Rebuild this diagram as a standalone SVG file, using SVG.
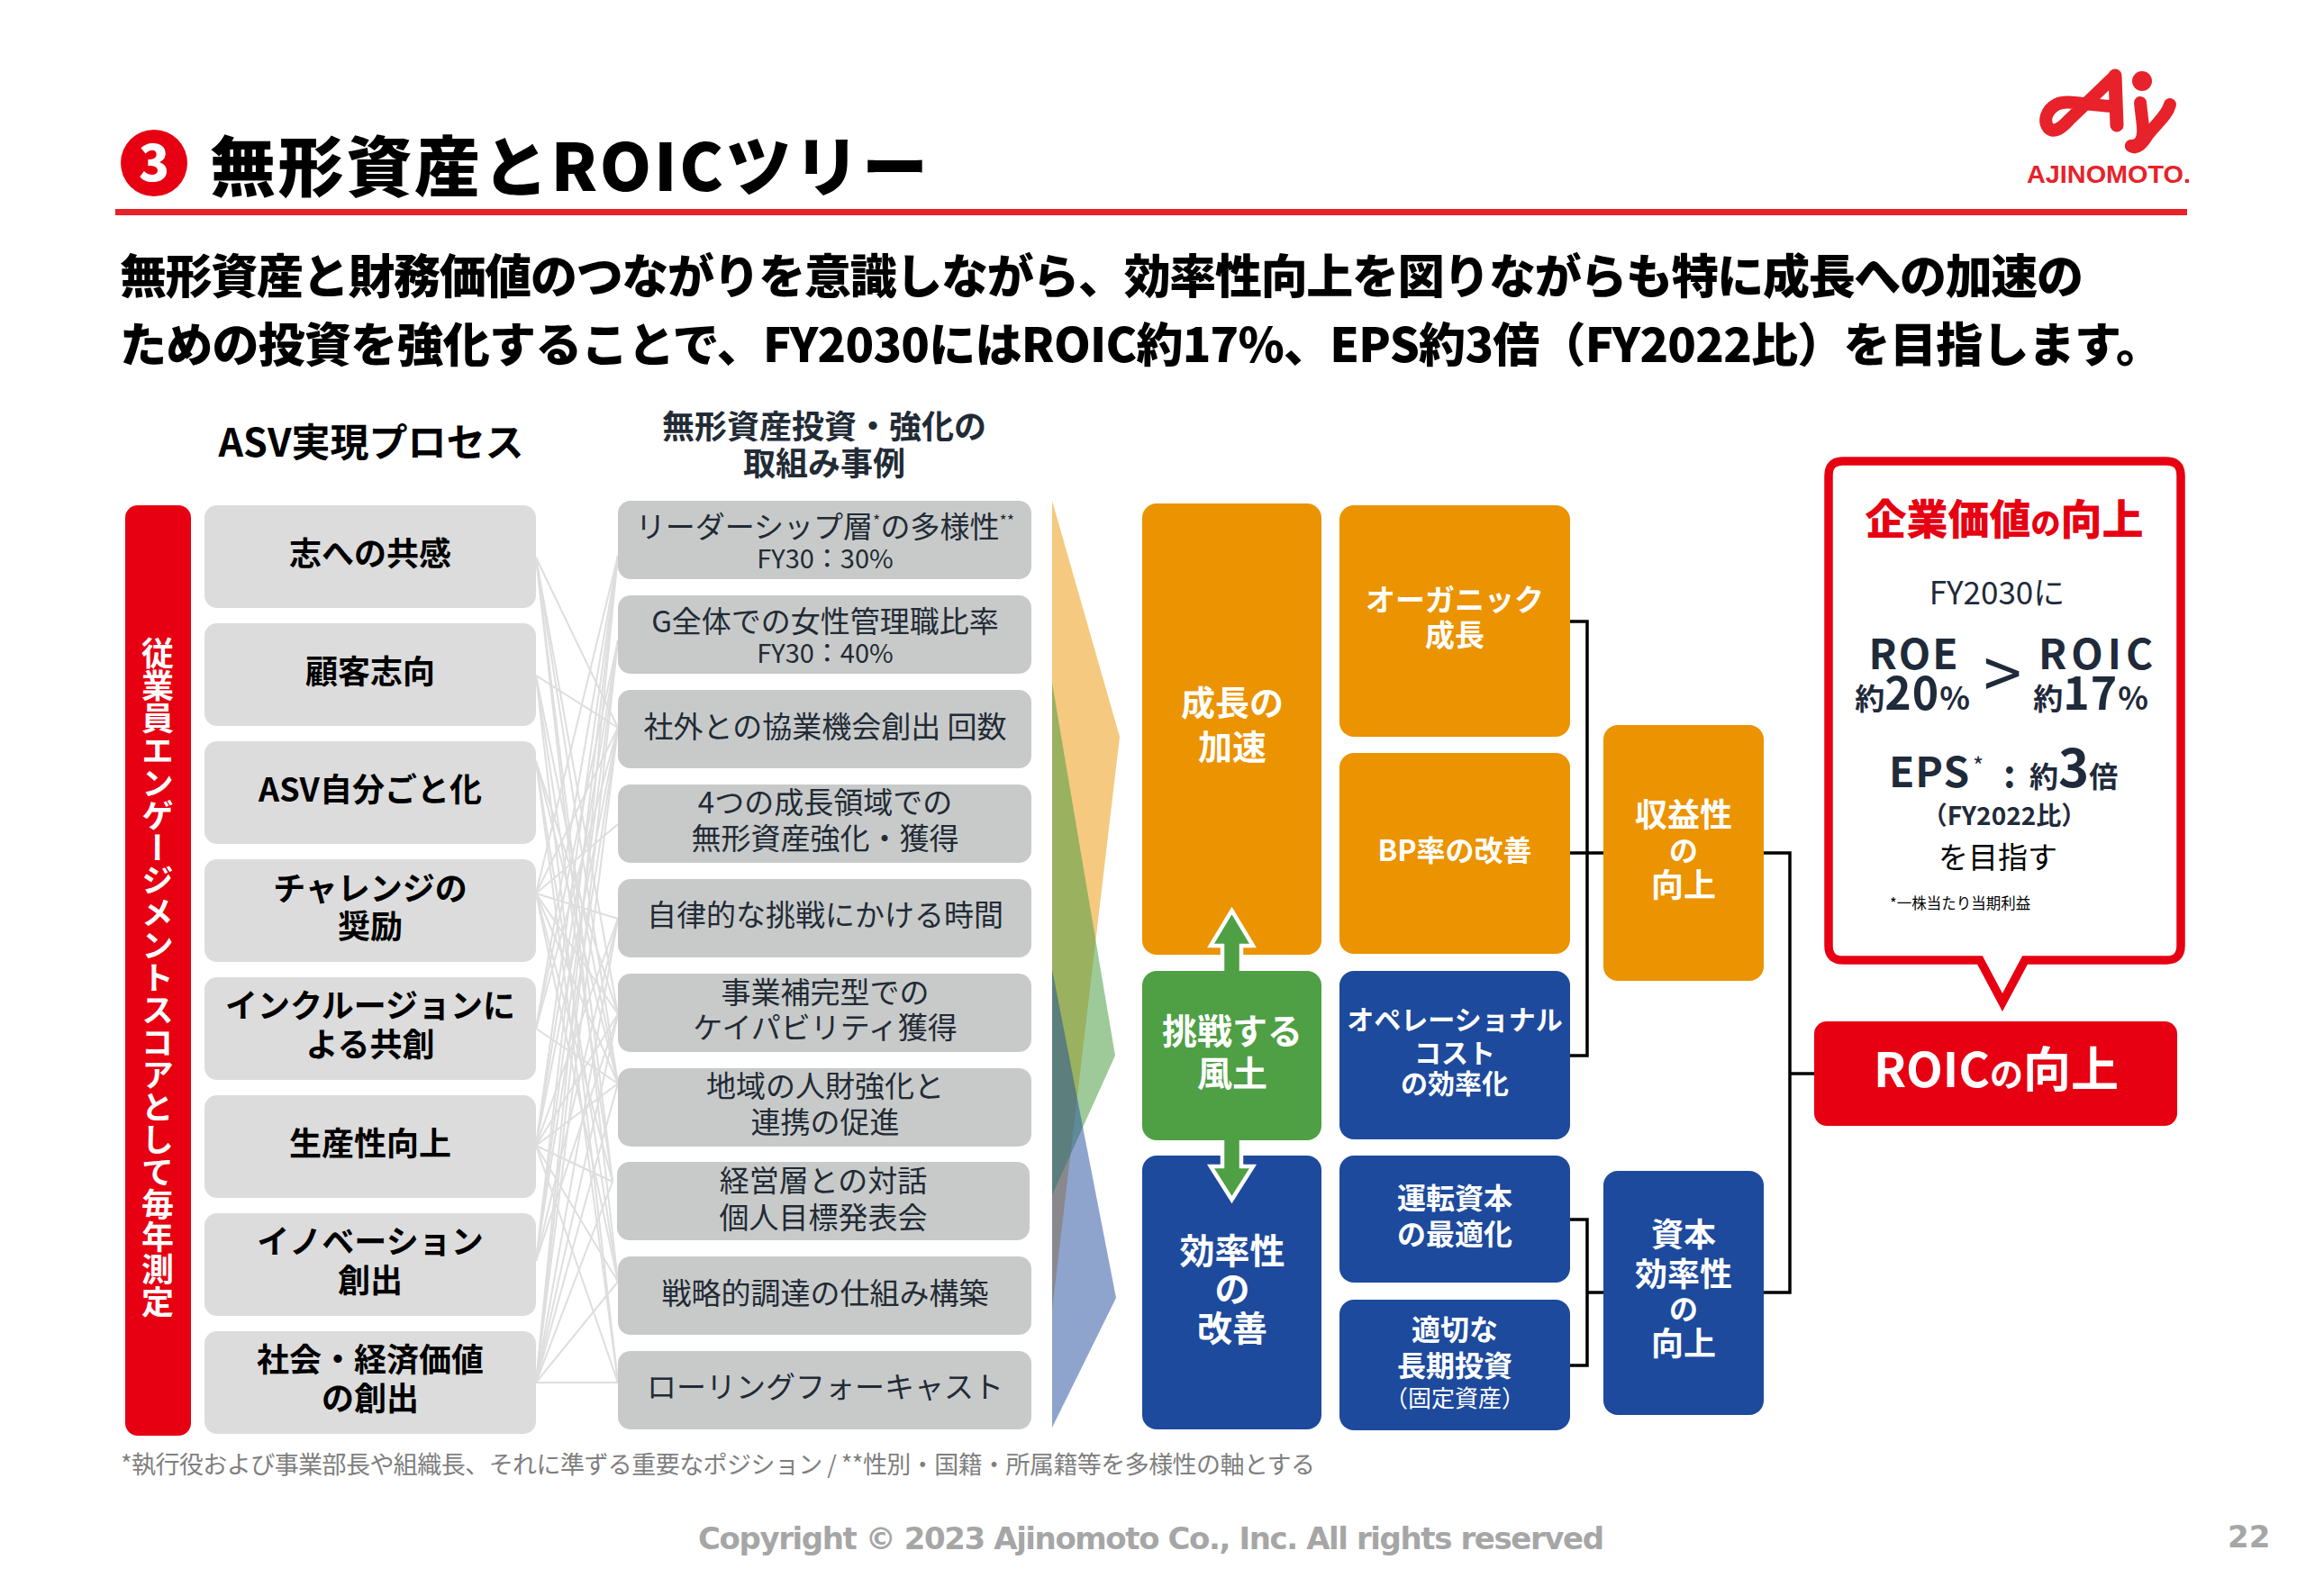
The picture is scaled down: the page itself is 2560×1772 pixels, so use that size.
<svg xmlns="http://www.w3.org/2000/svg" width="2560" height="1772" viewBox="0 0 2560 1772">
<style>
text{font-family:"Noto Sans CJK JP","Noto Sans",sans-serif}
.c{text-anchor:middle}
.b{font-weight:700}
.l{font-size:36px;font-weight:700;fill:#000;text-anchor:middle}
.r{font-size:33px;fill:#222b35;text-anchor:middle}
.w{fill:#fff;font-weight:700;text-anchor:middle}
.d{fill:#1f2a3a;font-weight:700}
.lb{fill:#dcdcdc}
.rb{fill:#c8caca}
.or{fill:#eb9300}
.bl{fill:#1d4a9c}
.cn line,.cn polyline{stroke:#dedede;stroke-width:2;fill:none}
.k{stroke:#000;stroke-width:3.5;fill:none}
</style>
<rect width="2560" height="1772" fill="#fff"/>
<g id="header">
<circle cx="171" cy="181" r="37" fill="#e60012"/>
<text x="171" y="201" class="c" font-weight="900" font-size="56" fill="#fff">3</text>
<text x="233" y="212" font-weight="900" font-size="73" fill="#000" textLength="797">無形資産とROICツリー</text>
<rect x="128" y="232" width="2300" height="7" fill="#e72229"/>
<g id="logo" fill="none" stroke="#e7222a" stroke-width="14" stroke-linecap="round" stroke-linejoin="round">
<path d="M2346,86 L2297,133 C2288,143 2280,148 2274,142 C2268,134 2272,122 2283,116 C2295,110 2310,116 2344,118"/>
<path d="M2348,84 L2350,139" stroke-width="15"/>
<path d="M2409,116 C2406,128 2395,136 2384,150 C2378,160 2372,166 2366,162"/>
<path d="M2376,114 L2379,140 C2380,155 2376,162 2366,162"/>
<circle cx="2378" cy="90" r="11" fill="#e7222a" stroke="none"/>
<text x="2250" y="203" font-size="27" font-weight="700" fill="#e7222a" stroke="none" textLength="182" lengthAdjust="spacingAndGlyphs" style="font-family:'Liberation Sans',sans-serif">AJINOMOTO.</text>
</g>
</g>
<g id="lead" font-weight="900" font-size="52" fill="#000">
<text x="133" y="326" textLength="2180">無形資産と財務価値のつながりを意識しながら、効率性向上を図りながらも特に成長への加速の</text>
<text x="133" y="402" textLength="2268">ための投資を強化することで、FY2030にはROIC約17%、EPS約3倍（FY2022比）を目指します。</text>
</g>
<g id="column-heads">
<text x="412" y="507" class="c b" font-size="43" fill="#000">ASV実現プロセス</text>
<text class="c b" font-size="36" fill="#222b35"><tspan x="915" y="487">無形資産投資・強化の</tspan><tspan x="915" y="528">取組み事例</tspan></text>
</g>
<g id="connectors-lines" class="cn">
<line x1="595" y1="619" x2="686" y2="808"/><line x1="595" y1="619" x2="686" y2="1126"/><line x1="595" y1="619" x2="686" y2="1203"/><line x1="595" y1="619" x2="680" y2="1312"/><line x1="595" y1="619" x2="686" y2="1423"/>
<line x1="595" y1="750" x2="686" y2="808"/><line x1="595" y1="750" x2="686" y2="1203"/><line x1="595" y1="750" x2="680" y2="1312"/><line x1="595" y1="750" x2="686" y2="1535"/>
<line x1="595" y1="845" x2="686" y2="1126"/><line x1="595" y1="845" x2="686" y2="1203"/><line x1="595" y1="845" x2="686" y2="1423"/><line x1="595" y1="845" x2="686" y2="1535"/>
<line x1="595" y1="992" x2="686" y2="617"/><line x1="595" y1="992" x2="686" y2="808"/><line x1="595" y1="992" x2="686" y2="915"/><line x1="595" y1="992" x2="686" y2="1020"/><line x1="595" y1="992" x2="686" y2="1126"/><line x1="595" y1="992" x2="686" y2="1203"/><line x1="595" y1="992" x2="680" y2="1312"/><line x1="595" y1="992" x2="686" y2="1423"/>
<line x1="595" y1="1142" x2="686" y2="617"/><line x1="595" y1="1142" x2="686" y2="711"/><line x1="595" y1="1142" x2="686" y2="808"/><line x1="595" y1="1142" x2="686" y2="1203"/>
<line x1="595" y1="1272" x2="686" y2="617"/><line x1="595" y1="1272" x2="686" y2="711"/><line x1="595" y1="1272" x2="686" y2="808"/><line x1="595" y1="1272" x2="686" y2="1020"/><line x1="595" y1="1272" x2="686" y2="1126"/><line x1="595" y1="1272" x2="686" y2="1203"/><line x1="595" y1="1272" x2="680" y2="1312"/><line x1="595" y1="1272" x2="686" y2="1423"/><line x1="595" y1="1272" x2="686" y2="1535"/>
<line x1="595" y1="1400" x2="686" y2="617"/><line x1="595" y1="1400" x2="686" y2="711"/><line x1="595" y1="1400" x2="686" y2="808"/><line x1="595" y1="1400" x2="686" y2="1020"/><line x1="595" y1="1400" x2="686" y2="1126"/>
<line x1="595" y1="1535" x2="686" y2="617"/><line x1="595" y1="1535" x2="686" y2="711"/><line x1="595" y1="1535" x2="686" y2="808"/><line x1="595" y1="1535" x2="686" y2="1020"/><line x1="595" y1="1535" x2="686" y2="1126"/><line x1="595" y1="1535" x2="686" y2="1203"/><line x1="595" y1="1535" x2="680" y2="1312"/><line x1="595" y1="1535" x2="686" y2="1423"/><line x1="595" y1="1535" x2="686" y2="1535"/>
</g>
<g id="engagement">
<rect x="139" y="561" width="73" height="1033" rx="14" fill="#e60012"/>
<text x="175" y="1085" class="w" font-size="36" style="writing-mode:vertical-rl">従業員エンゲージメントスコアとして毎年測定</text>
</g>
<g id="asv-1"><rect class="lb" x="227" y="561" width="368" height="114" rx="14"/><text class="l" x="411" y="628">志への共感</text></g>
<g id="asv-2"><rect class="lb" x="227" y="692" width="368" height="114" rx="14"/><text class="l" x="411" y="759">顧客志向</text></g>
<g id="asv-3"><rect class="lb" x="227" y="823" width="368" height="114" rx="14"/><text class="l" x="411" y="890">ASV自分ごと化</text></g>
<g id="asv-4"><rect class="lb" x="227" y="954" width="368" height="114" rx="14"/><text class="l"><tspan x="411" y="1000">チャレンジの</tspan><tspan x="411" y="1042">奨励</tspan></text></g>
<g id="asv-5"><rect class="lb" x="227" y="1085" width="368" height="114" rx="14"/><text class="l"><tspan x="411" y="1130">インクルージョンに</tspan><tspan x="411" y="1173">よる共創</tspan></text></g>
<g id="asv-6"><rect class="lb" x="227" y="1216" width="368" height="114" rx="14"/><text class="l" x="411" y="1283">生産性向上</text></g>
<g id="asv-7"><rect class="lb" x="227" y="1347" width="368" height="114" rx="14"/><text class="l"><tspan x="411" y="1392">イノベーション</tspan><tspan x="411" y="1435">創出</tspan></text></g>
<g id="asv-8"><rect class="lb" x="227" y="1478" width="368" height="114" rx="14"/><text class="l"><tspan x="411" y="1523">社会・経済価値</tspan><tspan x="411" y="1566">の創出</tspan></text></g>
<g id="inv-1"><rect class="rb" x="686" y="556" width="459" height="87" rx="14"/><text class="r"><tspan x="916" y="597">リーダーシップ層</tspan><tspan font-size="18" dy="-12">*</tspan><tspan dy="12">の多様性</tspan><tspan font-size="18" dy="-12">**</tspan><tspan x="916" y="631" font-size="29">FY30：30%</tspan></text></g>
<g id="inv-2"><rect class="rb" x="686" y="661" width="459" height="87" rx="14"/><text class="r"><tspan x="916" y="702">G全体での女性管理職比率</tspan><tspan x="916" y="736" font-size="29">FY30：40%</tspan></text></g>
<g id="inv-3"><rect class="rb" x="686" y="766" width="459" height="87" rx="14"/><text class="r" x="916" y="819">社外との協業機会創出 回数</text></g>
<g id="inv-4"><rect class="rb" x="686" y="871" width="459" height="87" rx="14"/><text class="r"><tspan x="916" y="903">4つの成長領域での</tspan><tspan x="916" y="943">無形資産強化・獲得</tspan></text></g>
<g id="inv-5"><rect class="rb" x="686" y="976" width="459" height="87" rx="14"/><text class="r" x="916" y="1028">自律的な挑戦にかける時間</text></g>
<g id="inv-6"><rect class="rb" x="686" y="1081" width="459" height="87" rx="14"/><text class="r"><tspan x="916" y="1114">事業補完型での</tspan><tspan x="916" y="1153">ケイパビリティ獲得</tspan></text></g>
<g id="inv-7"><rect class="rb" x="686" y="1186" width="459" height="87" rx="14"/><text class="r"><tspan x="916" y="1218">地域の人財強化と</tspan><tspan x="916" y="1258">連携の促進</tspan></text></g>
<g id="inv-8"><rect class="rb" x="685" y="1290" width="458" height="87" rx="14"/><text class="r"><tspan x="914" y="1323">経営層との対話</tspan><tspan x="914" y="1364">個人目標発表会</tspan></text></g>
<g id="inv-9"><rect class="rb" x="686" y="1395" width="459" height="87" rx="14"/><text class="r" x="916" y="1448">戦略的調達の仕組み構築</text></g>
<g id="inv-10"><rect class="rb" x="686" y="1500" width="459" height="87" rx="14"/><text class="r" x="916" y="1552">ローリングフォーキャスト</text></g>
<g id="funnels">
<polygon points="1168,556 1243,818 1168,1455" fill="#eb9300" fill-opacity=".5"/>
<polygon points="1168,758 1238,1172 1168,1327" fill="#4f9f45" fill-opacity=".55"/>
<polygon points="1168,1076 1239,1441 1168,1585" fill="#1d4a9c" fill-opacity=".5"/>
</g>
<g id="tree-connectors">
<polyline class="k" points="1743,690 1762,690 1762,1172 1743,1172"/>
<line class="k" x1="1743" y1="947" x2="1780" y2="947"/>
<polyline class="k" points="1743,1354 1762,1354 1762,1516 1743,1516"/>
<line class="k" x1="1762" y1="1435" x2="1780" y2="1435"/>
<polyline class="k" points="1958,947 1987,947 1987,1435 1958,1435"/>
<line class="k" x1="1987" y1="1192" x2="2014" y2="1192"/>
</g>
<g id="growth"><rect class="or" x="1268" y="559" width="199" height="501" rx="16"/><text class="w" font-size="38"><tspan x="1368" y="794">成長の</tspan><tspan x="1368" y="843">加速</tspan></text></g>
<g id="efficiency"><rect class="bl" x="1268" y="1283" width="199" height="304" rx="16"/><text class="w" font-size="39"><tspan x="1368" y="1403">効率性</tspan><tspan x="1368" y="1445">の</tspan><tspan x="1368" y="1489">改善</tspan></text></g>
<path id="culture-arrow" d="M1367.500,1011 L1391,1050 L1378,1050 L1378,1295 L1391,1295 L1367.500,1332 L1344,1295 L1357,1295 L1357,1050 L1344,1050 Z" fill="#4f9f45" stroke="#fff" stroke-width="4.500"/>
<g id="culture"><rect x="1268" y="1078" width="199" height="188" rx="16" fill="#4f9f45"/><text class="w" font-size="39"><tspan x="1368" y="1159">挑戦する</tspan><tspan x="1368" y="1206">風土</tspan></text></g>
<g id="organic"><rect class="or" x="1487" y="561" width="256" height="257" rx="16"/><text class="w" font-size="33"><tspan x="1615" y="678">オーガニック</tspan><tspan x="1615" y="717">成長</tspan></text></g>
<g id="bp"><rect class="or" x="1487" y="836" width="256" height="223" rx="16"/><text class="w" font-size="32" x="1615" y="956">BP率の改善</text></g>
<g id="opcost"><rect class="bl" x="1487" y="1078" width="256" height="187" rx="16"/><text class="w" font-size="30"><tspan x="1615" y="1143">オペレーショナル</tspan><tspan x="1615" y="1180">コスト</tspan><tspan x="1615" y="1214">の効率化</tspan></text></g>
<g id="working"><rect class="bl" x="1487" y="1283" width="256" height="141" rx="16"/><text class="w" font-size="32"><tspan x="1615" y="1342">運転資本</tspan><tspan x="1615" y="1382">の最適化</tspan></text></g>
<g id="longterm"><rect class="bl" x="1487" y="1443" width="256" height="145" rx="16"/><text class="w" font-size="32"><tspan x="1615" y="1488">適切な</tspan><tspan x="1615" y="1528">長期投資</tspan><tspan x="1615" y="1562" font-size="26" font-weight="400">（固定資産）</tspan></text></g>
<g id="profit"><rect class="or" x="1780" y="805" width="178" height="284" rx="16"/><text class="w" font-size="36"><tspan x="1869" y="918">収益性</tspan><tspan x="1869" y="956" font-size="32">の</tspan><tspan x="1869" y="996">向上</tspan></text></g>
<g id="capital"><rect class="bl" x="1780" y="1300" width="178" height="271" rx="16"/><text class="w" font-size="36"><tspan x="1869" y="1384">資本</tspan><tspan x="1869" y="1428">効率性</tspan><tspan x="1869" y="1465" font-size="32">の</tspan><tspan x="1869" y="1505">向上</tspan></text></g>
<g id="value">
<path d="M2046,512 H2405 Q2421,512 2421,528 V1050 Q2421,1066 2405,1066 H2248 L2223,1113 L2198,1066 H2046 Q2030,1066 2030,1050 V528 Q2030,512 2046,512 Z" fill="#fff" stroke="#e60012" stroke-width="9.500"/>
<text x="2225" y="593" class="c" font-weight="900" font-size="46" fill="#e60012">企業価値<tspan font-size="33">の</tspan>向上</text>
<text x="2217" y="671" class="c" font-size="35" fill="#1f2a3a">FY2030に</text>
<text x="2125" y="743" class="c d" font-size="46" letter-spacing="2">ROE</text>
<text x="2123" y="788" class="c d"><tspan font-size="33">約</tspan><tspan font-size="50" letter-spacing="1">20</tspan><tspan font-size="35">%</tspan></text>
<text x="2223" y="776" class="c" font-size="76" fill="#1f2a3a">&gt;</text>
<text x="2329" y="743" class="c d" font-size="46" letter-spacing="5">ROIC</text>
<text x="2321" y="788" class="c d"><tspan font-size="33">約</tspan><tspan font-size="50" letter-spacing="1">17</tspan><tspan font-size="35">%</tspan></text>
<text x="2097" y="874" class="d" font-size="46" letter-spacing="1">EPS</text>
<text x="2190" y="860" font-size="26" fill="#1f2a3a">*</text>
<text x="2224" y="874" class="d" font-size="42">:</text>
<text x="2253" y="874" class="d"><tspan font-size="32">約</tspan><tspan font-size="58">3</tspan><tspan font-size="32">倍</tspan></text>
<text x="2225" y="916" class="c d" font-size="28">（FY2022比）</text>
<text x="2218" y="964" class="c" font-size="33" fill="#000">を目指す</text>
<text x="2098" y="1009" font-size="16.500" fill="#000">*一株当たり当期利益</text>
</g>
<g id="roic"><rect x="2014" y="1134" width="403" height="116" rx="14" fill="#e60012"/><text class="w" x="2216" y="1207" font-size="53" font-weight="900">ROIC<tspan font-size="37">の</tspan>向上</text></g>
<g id="footer">
<text x="134" y="1636" font-size="27" fill="#7f7f7f" textLength="1326">*執行役および事業部長や組織長、それに準ずる重要なポジション / **性別・国籍・所属籍等を多様性の軸とする</text>
<text x="775" y="1720" font-size="34" font-weight="700" fill="#a6a6a6" textLength="1006" style="font-family:'DejaVu Sans',sans-serif">Copyright © 2023 Ajinomoto Co., Inc. All rights reserved</text>
<text x="2473" y="1718" font-size="34" font-weight="700" fill="#a6a6a6" style="font-family:'DejaVu Sans',sans-serif">22</text>
</g>
</svg>
